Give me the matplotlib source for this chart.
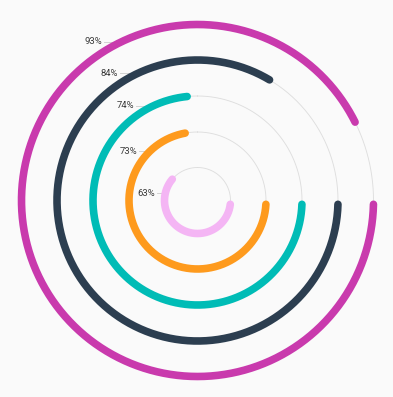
import numpy as np
import matplotlib
matplotlib.use("Agg")
import matplotlib.pyplot as plt

# ---- data (outer ring to inner ring) ----
values = [93, 84, 74, 73, 63]
labels = ["93%", "84%", "74%", "73%", "63%"]
colors = ["#C93AAD", "#2C3E50", "#00BCB6", "#FE9A1D", "#F4B5F4"]

# ---- layout (pixel space) ----
W, H = 393, 397
cx, cy = 197.5, 200.5
radii = [176, 140.5, 104.5, 68.5, 33]
lw_px = 7.6
start_deg = 90.0  # 3 o'clock, clockwise
label_xy = [(102, 42), (118, 73), (134, 106), (137, 151), (155, 193)]

fig = plt.figure(figsize=(W / 100, H / 100), dpi=100)
fig.patch.set_facecolor("#FAFAFA")
ax = fig.add_axes([0, 0, 1, 1])
ax.set_facecolor("#FAFAFA")
ax.set_xlim(0, W)
ax.set_ylim(H, 0)
ax.axis("off")

px2pt = 72 / 100

def pt(theta_deg, r):
    t = np.radians(theta_deg)
    return cx + r * np.sin(t), cy - r * np.cos(t)

for v, lab, col, r, (lx, ly) in zip(values, labels, colors, radii, label_xy):
    # track
    th = np.linspace(0, 360, 721)
    x, y = pt(th, r)
    ax.plot(x, y, color="#DEDEDE", lw=0.9 * px2pt, zorder=1)
    # leader line and label
    dy = ly - cy
    lead_end = cx - np.sqrt(max(r ** 2 - dy ** 2, 0))
    ax.plot([lx + 2, lead_end], [ly, ly], color="#CFCFCF", lw=0.9 * px2pt, zorder=1)
    ax.text(lx, ly, lab, ha="right", va="center", fontsize=6.8,
            family=["Roboto", "DejaVu Sans"], color="#3A3A3A", zorder=3)
    # value arc (rounded ends kept inside the angular extent)
    d = np.degrees((lw_px / 2) / r)
    end_deg = start_deg + v / 100 * 360
    th = np.linspace(start_deg + d, end_deg - d, 600)
    x, y = pt(th, r)
    ax.plot(x, y, color=col, lw=lw_px * px2pt, solid_capstyle="round", zorder=2)

fig.savefig("out.png", dpi=100, facecolor=fig.get_facecolor())
